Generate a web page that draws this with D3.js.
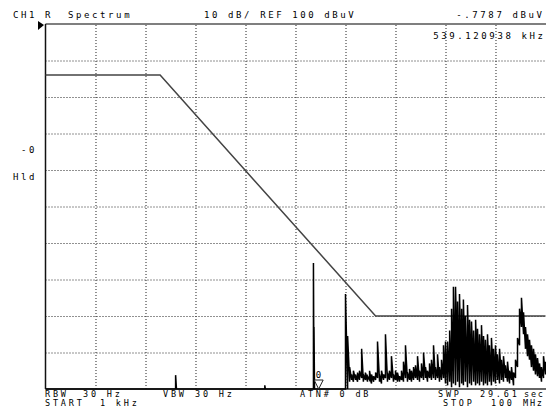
<!DOCTYPE html>
<html>
<head>
<meta charset="utf-8">
<script src="https://cdn.jsdelivr.net/npm/d3@7"></script>
<style>
  body { margin: 0; background: #fff; }
  text { font-family: "DejaVu Sans Mono", monospace; font-size: 9px; fill: #000; letter-spacing: 2.6px; }
  .small { font-size: 8.5px; letter-spacing: 2.8px; }
</style>
</head>
<body>
<div id="chart"></div>
<script>
// division positions on the display (kHz, log sweep 1 kHz .. 100 MHz)
const gridFreq = [3.162, 10, 31.62, 100, 316.2, 1000, 3162, 10000, 31620];
const gridLevel = [10, 20, 30, 40, 50, 60, 70, 80, 90];

// limit line
const limitFreq = [1, 14, 2000, 100000];
const limitLevel = [86, 86, 20, 20];

// trace, min/max per display bin (kHz, dBuV)
const traceFreq = [1, 19.6, 20, 20.4, 154, 156, 158, 470, 478, 484, 490, 980,
  1000, 1050, 1100, 1150, 1200, 1260, 1320, 1380, 1450, 1510, 1580, 1660, 1740, 1820, 1910,
  2000, 2090, 2190, 2290, 2400, 2510, 2630, 2750, 2880, 3020, 3160, 3310, 3470, 3630, 3800,
  3980, 4170, 4370, 4570, 4790, 5010, 5250, 5500, 5750, 6030, 6310, 6610, 6920, 7240, 7590,
  7940, 8320, 8710, 9120, 9550, 10000, 10500, 11000, 11500, 12000, 12600, 13200, 13800, 14500,
  15100, 15800, 16600, 17400, 18200, 19100, 20000, 20900, 21900, 22900, 24000, 25100, 26300,
  27500, 28800, 30200, 31600, 33100, 34700, 36300, 38000, 39800, 41700, 43700, 45700, 47900,
  50100, 52500, 55000, 57500, 60300, 63100, 66100, 69200, 72400, 75900, 79400, 83200, 87100,
  91200, 95500, 100000];
const traceLo = [0, 0, 0, 0, 0, 0, 0, 0, 0, 0, 0, 0,
  0, 0, 2, 2.5, 2, 2.5, 2, 2.5, 3, 2, 2.5, 2, 2.5, 1.5, 2,
  2.5, 3, 2, 1.5, 2.5, 3, 2, 2.5, 3, 2, 2.5, 2, 2, 2.5, 2,
  3, 2, 2.5, 2, 2.5, 3, 2.5, 2, 3, 2.5, 3, 2, 3, 2.5, 3,
  2.5, 3, 2, 2.5, 3, 1.5, 1, 2, 0.5, 1.5, 1, 2, 0.5, 1.5, 1,
  2, 0.5, 1.5, 1, 2, 1, 1.5, 1, 2, 1, 1.5, 1, 2, 1,
  2, 1.5, 2.5, 1.5, 2.5, 2, 3, 2, 1.5, 2.5, 1, 3, 6,
  12, 17, 15, 11, 9, 8, 6, 5, 4, 3.5, 3, 2,
  3, 4];
const traceHi = [0, 0, 3.8, 0, 0, 1, 0, 0, 34.5, 17, 0, 0,
  26, 14.5, 6, 4, 5, 4, 4.5, 5, 11, 4, 4.5, 3.5, 5, 4, 3.5,
  4.5, 13, 4, 5, 4, 15, 4.5, 5, 9, 4, 5, 4.5, 3.5, 5, 7.5,
  12, 4.5, 5.5, 5, 6, 6.5, 9, 5, 7, 10, 6, 5, 7, 8, 12,
  6, 9.5, 6, 8, 12, 13, 13, 16, 22, 28, 28, 24, 26, 22, 24.5,
  20, 23, 19, 18.5, 16, 19, 16.5, 15, 17.5, 14.5, 13.5, 15, 12,
  14, 11, 12, 9.5, 11, 8, 9, 6.5, 7.5, 5, 6, 4.5, 8,
  14, 22, 25, 21, 17, 15, 13.5, 12, 11, 9.5, 8.5, 7, 6,
  9, 7.5];

const markerFreq = 539.120938;
const markerLevel = -0.7787;

const width = 546;
const height = 417;
const plotLeft = 45.5, plotRight = 545.5, plotTop = 24, plotBottom = 389;

const svg = d3.select('#chart').append('svg')
  .attr('width', width)
  .attr('height', height)
  .style('background', '#fff');

const x = d3.scaleLog().domain([1, 100000]).range([plotLeft, plotRight]);
const y = d3.scaleLinear().domain([0, 100]).range([plotBottom, plotTop]);

// dotted graticule
svg.append('g')
  .attr('transform', `translate(0,${plotBottom})`)
  .call(d3.axisBottom(x).tickValues(gridFreq).tickSize(-(plotBottom - plotTop)).tickFormat(''))
  .call(g => g.select('.domain').remove())
  .call(g => g.selectAll('line').attr('stroke', '#222').attr('stroke-dasharray', '1,2'));

svg.append('g')
  .attr('transform', `translate(${plotLeft},0)`)
  .call(d3.axisLeft(y).tickValues(gridLevel).tickSize(-(plotRight - plotLeft)).tickFormat(''))
  .call(g => g.select('.domain').remove())
  .call(g => g.selectAll('line').attr('stroke', '#222').attr('stroke-dasharray', '1,2'));

// frame
svg.append('line').attr('x1', plotLeft).attr('x2', width).attr('y1', plotTop).attr('y2', plotTop)
  .attr('stroke', '#555').attr('stroke-width', 1.5);
svg.append('line').attr('x1', plotLeft).attr('x2', plotLeft).attr('y1', plotTop).attr('y2', plotBottom)
  .attr('stroke', '#111').attr('stroke-width', 1.5);
svg.append('line').attr('x1', plotLeft).attr('x2', width).attr('y1', plotBottom).attr('y2', plotBottom)
  .attr('stroke', '#333').attr('stroke-width', 1.5);

// limit line
const limit = d3.line().x((d, i) => x(limitFreq[i])).y((d, i) => y(limitLevel[i]));
svg.append('path')
  .attr('d', limit(limitFreq))
  .attr('fill', 'none')
  .attr('stroke', '#444')
  .attr('stroke-width', 1.5);

// trace: zigzag through min/max of every bin
const pts = [];
traceFreq.forEach((f, i) => {
  pts.push([x(f), y(traceLo[i])]);
  pts.push([x(f), y(traceHi[i])]);
});
svg.append('path')
  .attr('d', d3.line()(pts))
  .attr('fill', 'none')
  .attr('stroke', '#000')
  .attr('stroke-width', 1.5);

// marker
const mx = x(markerFreq), my = Math.min(y(markerLevel), plotBottom);
svg.append('path')
  .attr('d', `M${mx - 4.5},${my - 9}L${mx + 4.5},${my - 9}L${mx},${my}Z`)
  .attr('fill', '#fff').attr('stroke', '#222').attr('stroke-width', 1);
svg.append('text').attr('x', mx - 3).attr('y', my - 11).style('letter-spacing', '0').text('0');

// reference level pointer
svg.append('path').attr('d', `M38,${plotTop - 3}L44,${plotTop + 1}L38,${plotTop + 6}Z`).attr('fill', '#000');

// header texts
const label = (tx, ty, s, anchor, cls) => svg.append('text').attr('x', tx).attr('y', ty)
  .attr('class', cls || null)
  .attr('text-anchor', anchor || 'start').text(s);
label(13, 18, 'CH1');
label(45, 18, 'R');
label(68, 18, 'Spectrum');
label(204, 18, '10 dB/ REF 100 dBuV');
label(544.5, 17.5, '-.7787 dBuV', 'end');
label(545.5, 38.5, '539.120938 kHz', 'end');

// left side
label(21, 153, '-0');
label(13, 180, 'Hld');

// bottom texts
label(45, 397, 'RBW', null, 'small');
label(83, 397, '30 Hz', null, 'small');
label(163, 397, 'VBW', null, 'small');
label(195, 397, '30 Hz', null, 'small');
label(300, 397, 'ATN# 0 dB', null, 'small');
label(438, 397, 'SWP', null, 'small');
label(480, 397, '29.61', null, 'small');
label(524, 397, 'sec', null, 'small').style('letter-spacing', '1.8px');
label(45, 405.5, 'START', null, 'small');
label(100, 405.5, '1 kHz', null, 'small');
label(443, 405.5, 'STOP', null, 'small');
label(491, 405.5, '100', null, 'small');
label(523, 405.5, 'MHz', null, 'small').style('letter-spacing', '1.8px');
</script>
</body>
</html>
